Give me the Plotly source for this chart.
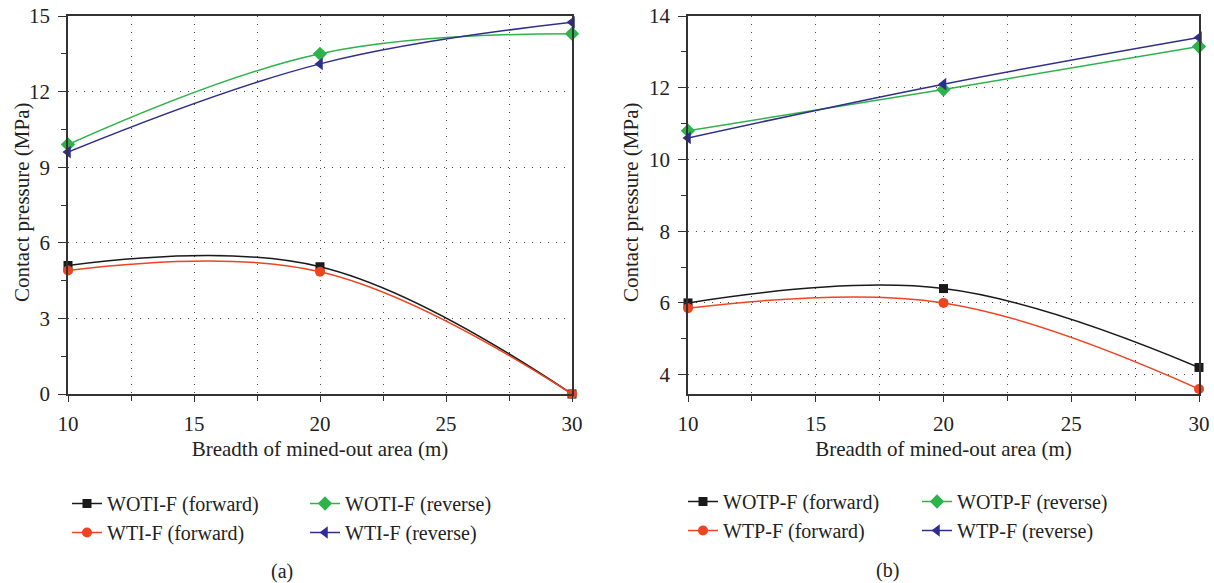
import plotly.graph_objects as go

breadth = [10, 20, 30]

# Panel (a)
woti_fwd = [5.1, 5.05, 0.0]
wti_fwd = [4.9, 4.85, 0.0]
woti_rev = [9.9, 13.5, 14.3]
wti_rev = [9.6, 13.1, 14.75]

# Panel (b)
wotp_fwd = [6.0, 6.4, 4.2]
wtp_fwd = [5.85, 6.0, 3.6]
wotp_rev = [10.8, 11.95, 13.15]
wtp_rev = [10.6, 12.1, 13.4]

FONT = "Liberation Serif"
BLACK = "#1a1a1a"
RED = "#ee4422"
GREEN = "#2db34a"
BLUE = "#302e8c"
TXT = "#222"

fig = go.Figure()

def add(x, y, name, color, symbol, size, xa, ya, legend):
    fig.add_trace(go.Scatter(
        x=x, y=y, name=name, mode="lines+markers",
        line=dict(color=color, width=1.5, shape="spline", smoothing=1.1),
        marker=dict(color=color, symbol=symbol, size=size),
        xaxis=xa, yaxis=ya, legend=legend, cliponaxis=False))

add(breadth, woti_fwd, "WOTI-F (forward)", BLACK, "square", 9, "x", "y", "legend")
add(breadth, wti_fwd, "WTI-F (forward)", RED, "circle", 10, "x", "y", "legend")
add(breadth, woti_rev, "WOTI-F (reverse)", GREEN, "diamond", 11, "x", "y", "legend2")
add(breadth, wti_rev, "WTI-F (reverse)", BLUE, "triangle-left", 11, "x", "y", "legend2")

add(breadth, wotp_fwd, "WOTP-F (forward)", BLACK, "square", 9, "x2", "y2", "legend3")
add(breadth, wtp_fwd, "WTP-F (forward)", RED, "circle", 10, "x2", "y2", "legend3")
add(breadth, wotp_rev, "WOTP-F (reverse)", GREEN, "diamond", 11, "x2", "y2", "legend4")
add(breadth, wtp_rev, "WTP-F (reverse)", BLUE, "triangle-left", 11, "x2", "y2", "legend4")

W, H = 1214, 583
GRID = dict(showgrid=True, gridcolor="#444", griddash="1px,7px", gridwidth=1.2)

def xaxis(domain, anchor):
    return dict(domain=domain, anchor=anchor, range=[10, 30], tickvals=[10, 15, 20, 25, 30],
                automargin=False,
                showline=True, linecolor="#333", linewidth=1.5, mirror=True,
                ticks="outside", ticklen=6, tickcolor="#333", ticklabelstandoff=4,
                **GRID,
                minor=dict(tickvals=[12.5, 17.5, 22.5, 27.5], ticks="outside", ticklen=5,
                           tickcolor="#333", **GRID),
                zeroline=False,
                title=dict(text="Breadth of mined-out area (m)", font=dict(size=21, family=FONT, color=TXT), standoff=6),
                tickfont=dict(size=21, family=FONT, color=TXT))

def yaxis(domain, anchor, rng, tickvals, minorvals):
    return dict(domain=domain, anchor=anchor, range=rng, tickvals=tickvals,
                automargin=False,
                showline=True, linecolor="#333", linewidth=1.5, mirror=True,
                ticks="outside", ticklen=8, tickcolor="#333", ticklabelstandoff=4,
                **GRID,
                minor=dict(tickvals=minorvals, ticks="outside", ticklen=5, tickcolor="#333", showgrid=False),
                zeroline=False,
                tickfont=dict(size=21, family=FONT, color=TXT))

ytop = 1 - 16 / H
ybot = 1 - 394 / H

def legend(xpx, ypx):
    return dict(x=xpx / W, y=1 - ypx / H, xanchor="left", yanchor="top",
                orientation="v", bgcolor="rgba(0,0,0,0)",
                font=dict(size=20, family=FONT, color=TXT),
                tracegroupgap=0, itemwidth=30)

def label(text, xpx, ypx, angle=0, size=20):
    return dict(text=text, x=xpx / W, y=1 - ypx / H, xref="paper", yref="paper",
                xanchor="center", yanchor="middle", textangle=angle,
                showarrow=False, font=dict(size=size, family=FONT, color=TXT))

fig.update_layout(
    width=W, height=H,
    margin=dict(l=0, r=0, t=0, b=0, autoexpand=False),
    paper_bgcolor="white", plot_bgcolor="white",
    font=dict(family=FONT, size=20, color=TXT),
    xaxis=xaxis([68 / W, 572 / W], "y"),
    yaxis=yaxis([ybot, ytop], "x", [0, 15], [0, 3, 6, 9, 12, 15],
                [1.5, 4.5, 7.5, 10.5, 13.5]),
    xaxis2=xaxis([688 / W, 1199 / W], "y2"),
    yaxis2=yaxis([ybot, ytop], "x2", [3.46, 14], [4, 6, 8, 10, 12, 14],
                 [5, 7, 9, 11, 13]),
    legend=legend(67, 484),
    legend2=legend(305, 484),
    legend3=legend(683, 482),
    legend4=legend(917, 482),
    annotations=[
        label("Contact pressure (MPa)", 22, 203, -90, 21),
        label("Contact pressure (MPa)", 631, 203, -90, 21),
        label("(a)", 282, 571),
        label("(b)", 887, 570),
    ],
)

fig.write_html("out.html")
